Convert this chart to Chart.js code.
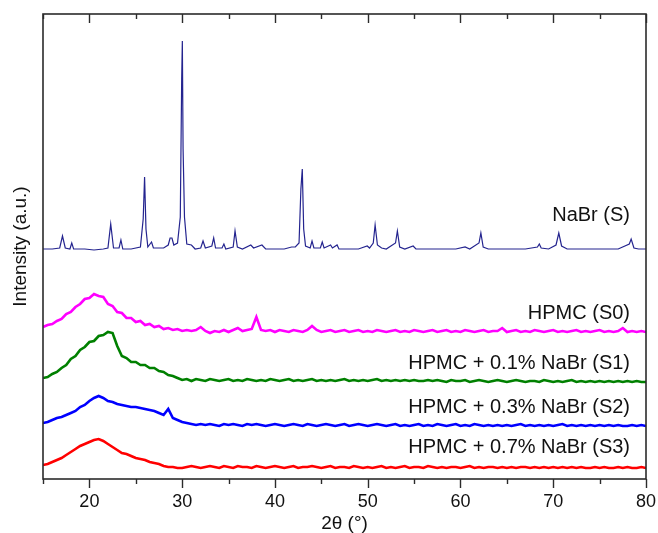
<!DOCTYPE html>
<html>
<head>
<meta charset="utf-8">
<script src="https://cdn.jsdelivr.net/npm/chart.js@4/dist/chart.umd.min.js"></script>
<style>
  html, body { margin: 0; padding: 0; background: #fff; }
  #wrap { width: 658px; height: 533px; }
</style>
</head>
<body>
<div id="wrap"><canvas id="c" width="658" height="533"></canvas></div>
<script>
// ---- Data (intensity in arbitrary units, curves offset as in the figure) ----
const twoTheta = [
  15,15.5,16,16.5,17,17.5,18,18.5,19,19.5,
  20,20.5,21,21.5,22,22.5,23,23.5,24,24.5,
  25,25.5,26,26.5,27,27.5,28,28.5,29,29.5,
  30,30.5,31,31.5,32,32.5,33,33.5,34,34.5,
  35,35.5,36,36.5,37,37.5,38,38.5,39,39.5,
  40,40.5,41,41.5,42,42.5,43,43.5,44,44.5,
  45,45.5,46,46.5,47,47.5,48,48.5,49,49.5,
  50,50.5,51,51.5,52,52.5,53,53.5,54,54.5,
  55,55.5,56,56.5,57,57.5,58,58.5,59,59.5,
  60,60.5,61,61.5,62,62.5,63,63.5,64,64.5,
  65,65.5,66,66.5,67,67.5,68,68.5,69,69.5,
  70,70.5,71,71.5,72,72.5,73,73.5,74,74.5,
  75,75.5,76,76.5,77,77.5,78,78.5,79,79.5,
  80
];

const hpmcS0 = [
  152,154,155,158,160,165,167,172,175,180,
  181,185,183,182,175,173,167,166,161,161,
  157,158,154,155,152,153,150,151,149,150,
  148,149,148,149,152,148,146,148,147,149,
  147,149,151,148,149,150,162,149,148,149,
  147,149,148,147,149,148,147,149,153,149,
  147,148,149,147,148,149,147,148,149,147,
  148,147,149,148,147,148,149,147,148,147,
  149,148,147,148,149,147,148,149,147,148,
  147,149,148,147,148,149,147,148,148,151,
  147,148,149,147,148,147,149,148,147,148,
  149,147,148,147,148,149,147,148,147,148,
  149,147,148,147,148,151,147,148,147,148,
  147
];

const hpmcS1 = [
  101,102,105,107,111,114,120,123,129,132,
  137,138,143,144,147,146,133,123,121,117,
  117,114,114,111,111,108,107,104,103,101,
  99,100,98,100,99,98,100,99,98,99,
  100,98,99,98,100,99,98,99,98,100,
  99,98,99,100,98,99,98,99,100,98,
  99,98,99,98,99,100,98,99,98,99,
  98,99,100,98,99,98,99,98,99,98,
  99,98,98,99,98,99,98,97,99,98,
  98,99,97,98,99,98,97,98,99,98,
  97,98,99,98,97,98,98,97,99,98,
  97,98,97,98,99,97,98,97,98,97,
  98,97,98,97,98,97,98,97,98,97,
  97
];

const hpmcS2 = [
  56,57,59,61,62,64,66,68,72,74,
  78,81,83,81,78,77,75,74,73,72,
  72,71,70,69,68,66,64,70,61,59,
  57,56,55,54,55,54,55,54,53,55,
  54,55,54,53,55,54,55,54,53,54,
  55,54,53,54,55,54,53,55,54,53,
  54,55,54,53,54,55,53,54,55,54,
  53,54,55,54,53,54,55,53,54,53,
  54,55,53,54,53,55,54,53,54,55,
  53,54,53,55,54,53,54,53,54,53,
  54,53,54,55,53,54,53,54,53,54,
  53,54,55,53,54,53,54,53,54,53,
  54,53,54,53,54,53,53,54,53,54,
  53
];

const hpmcS3 = [
  14,15,17,19,21,24,27,30,33,35,
  37,39,40,38,35,32,29,26,25,23,
  21,20,19,17,16,15,13,12,12,11,
  11,12,13,12,11,12,13,12,11,13,
  12,11,13,12,12,11,13,12,11,12,
  13,12,11,12,13,11,12,12,13,12,
  11,12,13,11,12,12,11,13,12,11,
  12,11,12,13,11,12,11,12,13,11,
  12,12,11,13,12,11,12,11,12,12,
  11,12,13,11,12,11,12,12,11,12,
  11,12,11,12,12,11,12,11,12,11,
  12,11,12,11,12,11,12,11,11,12,
  11,12,11,11,12,11,12,11,11,12,
  11
];

// NaBr crystalline pattern, sampled at its own 2θ positions
const nabrTheta = [
  15,16,16.8,17.1,17.4,17.9,18.1,18.3,19.5,20.5,21.5,22,22.3,22.6,23.2,23.4,23.6,24.5,
  25.5,25.8,25.95,26.1,26.3,26.7,26.9,28,28.5,28.7,28.9,29.1,29.5,29.8,29.95,30.02,30.1,30.25,30.5,
  31,31.4,32,32.25,32.5,33.2,33.4,33.6,34.3,34.5,34.7,35.5,35.7,35.95,36.5,37.4,37.7,38.6,39,
  40,41,41.8,42.2,42.6,42.8,42.95,43.1,43.3,43.8,44,44.2,44.9,45.1,45.3,46,46.2,46.7,46.9,
  48,49,49.95,50.2,50.6,50.8,51.05,51.5,52,53,53.2,53.45,54,54.9,55.2,56.5,58,59.5,60.5,61,
  62,62.2,62.45,63,65,67,68.3,68.5,68.7,69.5,70.3,70.6,70.9,71.5,73,75,77,78.2,78.4,78.7,79.2,80
];
const nabrI = [
  230,230,231,243,231,230,236,230,230,229,230,231,255,231,231,239,230,230,
  232,260,302,250,232,237,231,231,234,241,241,234,236,262,400,438,330,262,235,
  234,230,231,238,231,233,241,231,231,235,230,232,248,232,230,234,231,234,230,
  230,230,232,232,236,290,310,250,233,231,238,231,231,237,231,234,231,234,230,
  230,230,233,231,236,254,234,231,230,236,248,232,230,233,230,230,230,230,232,230,
  236,246,232,230,230,230,232,235,231,230,234,246,233,230,230,230,230,235,240,231,230,230
];

const seriesNames = ['NaBr (S)', 'HPMC (S0)', 'HPMC + 0.1% NaBr (S1)', 'HPMC + 0.3% NaBr (S2)', 'HPMC + 0.7% NaBr (S3)'];
const seriesColors = ['#24248f', '#ff00ff', '#008000', '#0000ff', '#ff0000'];
const labelLevels = [264, 166, 116, 72, 32];   // where each curve label sits (intensity units)

const xMajorTicks = [20, 30, 40, 50, 60, 70, 80];
const xMinorTicks = [15, 25, 35, 45, 55, 65, 75];

// ---- build datasets ----
function pairs(xs, ys) { return xs.map((x, i) => ({ x: x, y: ys[i] })); }
const amorphous = [hpmcS0, hpmcS1, hpmcS2, hpmcS3];
const datasets = [{
  label: seriesNames[0], data: pairs(nabrTheta, nabrI),
  borderColor: seriesColors[0], borderWidth: 1.2, pointRadius: 0, tension: 0
}].concat(amorphous.map((arr, k) => ({
  label: seriesNames[k + 1], data: pairs(twoTheta, arr),
  borderColor: seriesColors[k + 1], borderWidth: 2.6, pointRadius: 0, tension: 0
})));

const FONT = "'Liberation Sans', Arial, Helvetica, sans-serif";

const framePlugin = {
  id: 'frame',
  afterDatasetsDraw(chart) {
    const { ctx, chartArea: a, scales } = chart;
    const xs = scales.x, ys = scales.y;
    ctx.save();
    ctx.strokeStyle = '#2b2b2b';
    ctx.lineWidth = 1.6;
    ctx.strokeRect(a.left, a.top, a.right - a.left, a.bottom - a.top);
    ctx.lineWidth = 1.4;
    const drawTick = (v, len) => {
      const px = Math.round(xs.getPixelForValue(v)) + 0.5;
      ctx.beginPath(); ctx.moveTo(px, a.bottom); ctx.lineTo(px, a.bottom + len); ctx.stroke();
      ctx.beginPath(); ctx.moveTo(px, a.top); ctx.lineTo(px, a.top + len); ctx.stroke();
    };
    xMajorTicks.forEach(v => drawTick(v, 9));
    xMinorTicks.forEach(v => drawTick(v, 5));
    // curve labels
    ctx.fillStyle = '#111';
    ctx.font = '20px ' + FONT;
    ctx.textAlign = 'right';
    ctx.textBaseline = 'middle';
    seriesNames.forEach((name, i) => {
      ctx.fillText(name, a.right - 16, ys.getPixelForValue(labelLevels[i]));
    });
    ctx.restore();
  }
};

new Chart(document.getElementById('c'), {
  type: 'line',
  data: { datasets: datasets },
  plugins: [framePlugin],
  options: {
    responsive: false,
    devicePixelRatio: 1,
    animation: false,
    layout: { padding: { top: 14, right: 12, bottom: 0, left: 0 } },
    plugins: { legend: { display: false }, tooltip: { enabled: false } },
    scales: {
      x: {
        type: 'linear', min: 15, max: 80,
        afterBuildTicks: s => { s.ticks = xMajorTicks.map(v => ({ value: v })); },
        afterFit: s => { s.height = 54; s.paddingRight = 0; s.paddingLeft = 0; },
        grid: { display: false, drawTicks: false },
        border: { display: false },
        ticks: { padding: 12, color: '#111', font: { family: FONT, size: 18 }, maxRotation: 0, autoSkip: false },
        title: { display: true, text: '2θ (°)', color: '#111', font: { family: FONT, size: 19, lineHeight: 1 }, padding: { top: 0, bottom: 0 } }
      },
      y: {
        type: 'linear', min: 0, max: 465,
        afterFit: s => { s.width = 43; },
        grid: { display: false, drawTicks: false },
        border: { display: false },
        ticks: { display: false },
        title: { display: true, text: 'Intensity (a.u.)', color: '#111', font: { family: FONT, size: 19, lineHeight: 1 }, padding: { top: 11, bottom: 0 } }
      }
    }
  }
});
</script>
</body>
</html>
